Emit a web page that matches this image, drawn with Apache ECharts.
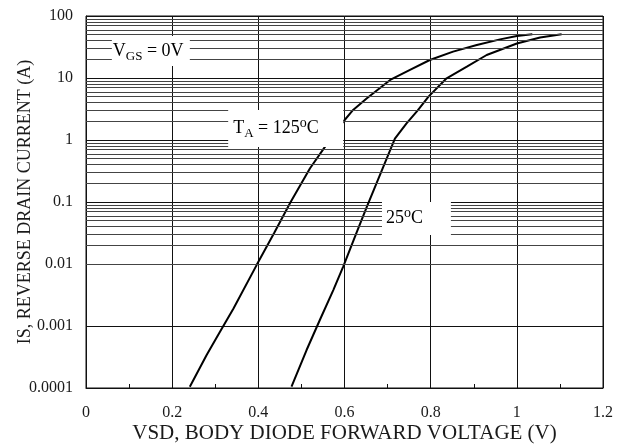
<!DOCTYPE html>
<html><head><meta charset="utf-8">
<script src="https://cdn.jsdelivr.net/npm/echarts@6/dist/echarts.min.js"></script>
<style>html,body{margin:0;padding:0;background:#fff}#c{width:623px;height:448px}</style>
</head><body><div id="c"></div>
<script>
// ---- data ----
const xTickLabels = ['0', '0.2', '0.4', '0.6', '0.8', '1', '1.2'];
const yTickLabels = ['0.0001', '0.001', '0.01', '0.1', '1', '10', '100'];

// TA = 125 °C
const vsd125 = [0.241, 0.280, 0.311, 0.342, 0.396, 0.437, 0.475, 0.520, 0.555, 0.597, 0.620, 0.652, 0.706, 0.752, 0.798, 0.852, 0.907, 0.961, 1.000, 1.036];
const is125  = [0.000105, 0.00034, 0.00081, 0.0019, 0.0096, 0.032, 0.1, 0.35, 0.78, 1.97, 3.05, 4.7, 9.3, 13.5, 19.5, 26.6, 34, 42, 47.6, 50.7];

// 25 °C
const vsd25 = [0.477, 0.512, 0.543, 0.574, 0.597, 0.628, 0.652, 0.690, 0.717, 0.744, 0.770, 0.795, 0.837, 0.884, 0.930, 1.000, 1.054, 1.104];
const is25  = [0.000105, 0.00041, 0.00126, 0.0038, 0.0091, 0.032, 0.084, 0.37, 1.05, 1.86, 3.0, 5.0, 9.9, 15.2, 23.5, 36, 45, 50.7];

// log-grid minor lines
const minorMultipliers = [2, 3, 4, 5, 6, 7, 8, 9];
const decadeStarts = [0.0001, 0.001, 0.01, 0.1, 1, 10];

// annotation boxes (data coordinates): [x0, y0, x1, y1]
const annVgs  = [0.060, 47.6, 0.241, 15.6];
const annTa   = [0.330, 3.05, 0.597, 0.77];
const ann25   = [0.687, 0.1, 0.847, 0.0294];

// ---- chart ----
const FONT = 'Liberation Serif';
const TXT = '#1a1a1a';
const minorVals = [];
decadeStarts.forEach(d => minorMultipliers.forEach(m => minorVals.push(+(d * m).toPrecision(3))));

const chart = echarts.init(document.getElementById('c'), null, {renderer: 'canvas'});
chart.setOption({
  animation: false,
  backgroundColor: '#fff',
  grid: {left: 86, right: 20, top: 16, bottom: 60, containLabel: false, outerBoundsMode: 'none',
         show: true, borderColor: '#111', borderWidth: 1, backgroundColor: 'transparent'},
  xAxis: {
    type: 'value', min: 0, max: 1.2, interval: 0.2,
    name: 'VSD, BODY DIODE FORWARD VOLTAGE (V)', nameLocation: 'middle', nameGap: 35,
    nameMoveOverlap: false,
    nameTextStyle: {fontFamily: FONT, fontSize: 21, color: TXT},
    axisLine: {show: true, lineStyle: {color: '#111', width: 1}},
    axisTick: {show: false, inside: true, length: 4},
    minorTick: {show: true, splitNumber: 2, length: 4, lineStyle: {color: '#111', width: 1}},
    splitLine: {show: true, lineStyle: {color: '#111', width: 1}},
    axisLabel: {fontFamily: FONT, fontSize: 16, color: TXT, margin: 17,
      formatter: v => xTickLabels[Math.round(v / 0.2)]}
  },
  yAxis: {
    type: 'log', logBase: 10, min: 0.0001, max: 100,
    name: 'IS, REVERSE DRAIN CURRENT (A)', nameLocation: 'middle', nameGap: 52,
    nameMoveOverlap: false,
    nameTextStyle: {fontFamily: FONT, fontSize: 18, color: TXT},
    axisLine: {show: true, lineStyle: {color: '#111', width: 1}},
    axisTick: {show: false},
    splitLine: {show: true, lineStyle: {color: '#111', width: 1}},
    axisLabel: {fontFamily: FONT, fontSize: 16, color: TXT, margin: 13,
      formatter: v => yTickLabels[Math.round(Math.log10(v)) + 4]}
  },
  series: [
    {
      type: 'line', data: [], z: 1, silent: true,
      markLine: {
        silent: true, symbol: ['none', 'none'], label: {show: false},
        lineStyle: {type: 'solid', color: '#444', width: 1},
        emphasis: {disabled: true},
        data: minorVals.map(v => ({yAxis: v}))
      }
    },
    {
      type: 'line', name: '125', z: 3, showSymbol: false, symbol: 'none',
      lineStyle: {color: '#000', width: 2}, silent: true,
      data: vsd125.map((x, i) => [x, is125[i]])
    },
    {
      type: 'line', name: '25', z: 3, showSymbol: false, symbol: 'none',
      lineStyle: {color: '#000', width: 2}, silent: true,
      data: vsd25.map((x, i) => [x, is25[i]])
    }
  ]
});

function box(ann, text, rich, pad) {
  const p0 = chart.convertToPixel({gridIndex: 0}, [ann[0], ann[1]]);
  const p1 = chart.convertToPixel({gridIndex: 0}, [ann[2], ann[3]]);
  return {
    type: 'group', z: 100,
    children: [
      {type: 'rect', shape: {x: p0[0], y: p0[1], width: p1[0] - p0[0], height: p1[1] - p0[1]},
       style: {fill: '#fff', stroke: null}, z: 100},
      {type: 'text', x: p0[0] + pad, y: (p0[1] + p1[1]) / 2, z: 101,
       style: {text: text, rich: rich, align: 'left', verticalAlign: 'middle'}}
    ]
  };
}
const rich = {
  n: {fontFamily: FONT, fontSize: 18, lineHeight: 24, color: TXT},
  s: {fontFamily: FONT, fontSize: 13, lineHeight: 16, color: TXT, verticalAlign: 'bottom'},
  o: {fontFamily: FONT, fontSize: 14, lineHeight: 13, color: TXT, verticalAlign: 'top'}
};
chart.setOption({
  graphic: [
    box(annVgs, '{n|V}{s|GS}{n| = 0V}', rich, 1),
    box(annTa, '{n|T}{s|A}{n| = 125}{o|o}{n|C}', rich, 5),
    box(ann25, '{n|25}{o|o}{n|C}', rich, 4)
  ]
});
</script></body></html>
